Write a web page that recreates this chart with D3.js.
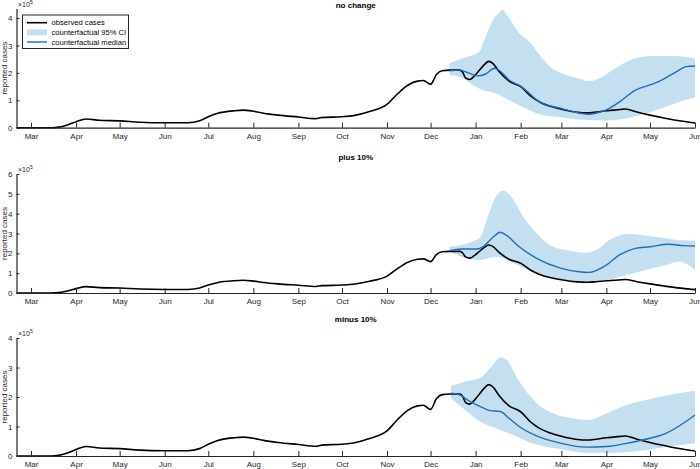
<!DOCTYPE html>
<html><head><meta charset="utf-8">
<script src="https://cdn.jsdelivr.net/npm/d3@7"></script>
<style>
body{margin:0;background:#fff;}
svg{display:block;font-family:"Liberation Sans",Arial,sans-serif;}
</style></head><body>
<svg id="chart" width="700" height="469"></svg>
<script>
// ---- data (cases in units of 1e5) ----
const monthTicks = ["2020-03-01","2020-04-01","2020-05-01","2020-06-01","2020-07-01","2020-08-01","2020-09-01","2020-10-01","2020-11-01","2020-12-01","2021-01-01","2021-02-01","2021-03-01","2021-04-01","2021-05-01","2021-06-01"];
const panelTitles = ["no change","plus 10%","minus 10%"];
const panelYMax = [4.35, 6, 4];
const panelYTicks = [[0,1,2,3,4],[0,1,2,3,4,5,6],[0,1,2,3,4]];
const legendLabels = ["observed cases","counterfactual 95% CI","counterfactual median"];

const observed = [
["2020-02-20",0],["2020-03-15",0],["2020-03-20",0.02],["2020-03-26",0.10],["2020-04-01",0.22],["2020-04-08",0.32],
["2020-04-17",0.27],["2020-05-01",0.25],["2020-05-15",0.20],["2020-06-01",0.18],["2020-06-17",0.18],["2020-06-25",0.25],
["2020-07-01",0.40],["2020-07-07",0.52],["2020-07-19",0.62],["2020-07-25",0.64],["2020-07-31",0.61],["2020-08-08",0.53],
["2020-08-18",0.46],["2020-09-01",0.39],["2020-09-13",0.33],["2020-09-17",0.37],["2020-10-01",0.40],["2020-10-09",0.44],
["2020-10-20",0.59],["2020-11-01",0.85],["2020-11-08",1.22],["2020-11-15",1.54],["2020-11-22",1.70],["2020-11-26",1.72],
["2020-12-01",1.58],["2020-12-05",1.94],["2020-12-09",2.08],["2020-12-14",2.10],["2020-12-21",2.10],["2020-12-23",2.03],
["2020-12-25",1.82],["2020-12-28",1.76],["2020-12-31",1.88],["2021-01-03",2.06],["2021-01-07",2.30],["2021-01-10",2.42],
["2021-01-13",2.34],["2021-01-17",2.06],["2021-01-24",1.70],["2021-02-01",1.50],["2021-02-08",1.15],["2021-02-15",0.91],
["2021-02-22",0.77],["2021-03-01",0.67],["2021-03-12",0.56],["2021-03-19",0.54],["2021-03-25",0.57],["2021-04-01",0.62],
["2021-04-06",0.64],["2021-04-14",0.68],["2021-04-22",0.57],["2021-05-01",0.46],["2021-05-09",0.37],["2021-05-20",0.26],
["2021-06-01",0.17]];

const median1 = [["2020-12-14",2.08],["2020-12-21",2.10],["2020-12-28",1.98],["2021-01-02",1.89],["2021-01-08",1.96],
["2021-01-14",2.17],["2021-01-18",2.06],["2021-01-24",1.74],["2021-02-01",1.52],["2021-02-14",0.94],["2021-03-01",0.70],
["2021-03-13",0.54],["2021-03-20",0.49],["2021-03-27",0.56],["2021-04-01",0.65],["2021-04-10",0.94],["2021-04-21",1.37],
["2021-05-01",1.56],["2021-05-07",1.68],["2021-05-19",2.04],["2021-05-26",2.23],["2021-06-01",2.25]];
const upper1 = [["2020-12-14",2.35],["2020-12-23",2.53],["2020-12-30",2.65],["2021-01-04",2.80],["2021-01-06",3.09],
["2021-01-08",3.33],["2021-01-13",3.94],["2021-01-18",4.24],["2021-01-19",4.30],["2021-01-24",4.0],["2021-01-31",3.45],
["2021-02-07",3.15],["2021-02-14",2.66],["2021-02-21",2.23],["2021-03-01",1.99],["2021-03-13",1.80],["2021-03-20",1.70],
["2021-03-27",1.80],["2021-04-05",2.1],["2021-04-15",2.41],["2021-04-24",2.57],["2021-05-03",2.62],["2021-05-17",2.62],
["2021-06-01",2.53]];
const lower1 = [["2020-12-14",1.92],["2020-12-21",1.86],["2020-12-30",1.56],["2021-01-06",1.37],["2021-01-15",1.25],
["2021-01-24",1.01],["2021-01-31",0.82],["2021-02-07",0.64],["2021-02-16",0.46],["2021-03-01",0.38],["2021-03-13",0.30],
["2021-03-31",0.27],["2021-04-15",0.34],["2021-04-28",0.52],["2021-05-12",0.76],["2021-05-21",0.94],["2021-06-01",1.10]];

const median2 = [["2020-12-14",2.13],["2020-12-23",2.22],["2021-01-02",2.22],["2021-01-06",2.33],["2021-01-13",2.81],
["2021-01-18",3.06],["2021-01-22",2.92],["2021-01-31",2.33],["2021-02-12",1.75],["2021-03-01",1.24],["2021-03-13",1.07],
["2021-03-20",1.04],["2021-04-01",1.41],["2021-04-10",1.92],["2021-04-21",2.25],["2021-05-01",2.33],["2021-05-14",2.46],
["2021-05-24",2.39],["2021-06-01",2.37]];
const upper2 = [["2020-12-14",2.33],["2020-12-26",2.50],["2021-01-04",2.81],["2021-01-11",4.19],["2021-01-15",4.86],
["2021-01-20",5.16],["2021-01-27",4.69],["2021-02-02",3.93],["2021-02-12",3.01],["2021-02-21",2.42],["2021-03-04",2.17],
["2021-03-18",2.03],["2021-03-25",2.17],["2021-04-05",2.76],["2021-04-17",2.98],["2021-04-28",2.90],["2021-05-10",2.78],
["2021-05-21",2.66],["2021-06-01",2.64]];
const lower2 = [["2020-12-14",2.08],["2020-12-26",1.75],["2021-01-04",1.66],["2021-01-15",1.83],["2021-01-27",1.50],
["2021-02-09",1.07],["2021-02-23",0.74],["2021-03-13",0.57],["2021-04-01",0.66],["2021-04-15",0.91],["2021-04-28",1.16],
["2021-05-12",1.41],["2021-05-21",1.58],["2021-06-01",1.16]];

const median3 = [["2020-12-15",2.13],["2020-12-21",2.07],["2020-12-28",1.85],["2021-01-04",1.68],["2021-01-11",1.54],
["2021-01-18",1.51],["2021-01-24",1.28],["2021-01-31",1.00],["2021-02-12",0.68],["2021-03-01",0.43],["2021-03-18",0.30],
["2021-04-01",0.32],["2021-04-15",0.43],["2021-05-01",0.60],["2021-05-12",0.77],["2021-05-24",1.11],["2021-06-01",1.39]];
const upper3 = [["2020-12-15",2.38],["2020-12-26",2.53],["2021-01-04",2.64],["2021-01-11",2.98],["2021-01-18",3.34],
["2021-01-22",3.27],["2021-01-31",2.53],["2021-02-12",1.79],["2021-02-23",1.45],["2021-03-09",1.28],["2021-03-20",1.22],
["2021-04-01",1.45],["2021-04-15",1.73],["2021-04-28",1.90],["2021-05-14",2.07],["2021-06-01",2.21]];
const lower3 = [["2020-12-15",1.96],["2020-12-26",1.51],["2021-01-04",1.17],["2021-01-15",0.94],["2021-01-27",0.71],
["2021-02-09",0.43],["2021-03-01",0.23],["2021-03-18",0.11],["2021-04-05",0.11],["2021-04-28",0.20],["2021-05-14",0.32],
["2021-06-01",0.43]];

const medians = [median1, median2, median3];
const uppers = [upper1, upper2, upper3];
const lowers = [lower1, lower2, lower3];

// ---- drawing ----
const parse = d3.utcParse("%Y-%m-%d");
const svg = d3.select("#chart");
const ciColor = "#c4dff0", medColor = "#1f6eb4", axColor = "#262626";
const panels = [{top:8.5, bottom:127.7, title:8},{top:174, bottom:293, title:160},{top:338, bottom:456, title:322}];
const x = d3.scaleUtc().domain([parse("2020-02-20"), parse("2021-06-01")]).range([16.5, 695]);
const mTicks = monthTicks.map(parse);

panels.forEach((p, i) => {
  const y = d3.scaleLinear().domain([0, panelYMax[i]]).range([p.bottom, p.top]);
  const g = svg.append("g");
  const smooth = d3.line().curve(d3.curveMonotoneX);

  // CI band: smooth upper path forward, densely sampled smooth lower path backward
  const upPath = smooth(uppers[i].map(d=>[x(parse(d[0])), y(d[1])]));
  const tmp = svg.append("path").attr("d", smooth(lowers[i].map(d=>[x(parse(d[0])), y(d[1])]))).attr("fill","none");
  const node = tmp.node(), L = node.getTotalLength();
  const loSamples = [];
  for(let k=0;k<=300;k++){ const pt=node.getPointAtLength(L*k/300); loSamples.push([pt.x,pt.y]); }
  tmp.remove();
  loSamples.reverse();
  g.append("path")
    .attr("d", upPath + "L" + loSamples.map(pt=>pt[0].toFixed(2)+","+pt[1].toFixed(2)).join("L") + "Z")
    .attr("fill", ciColor).attr("stroke","none");

  const line = d3.line().x(d=>x(parse(d[0]))).y(d=>y(d[1])).curve(d3.curveMonotoneX);
  g.append("path").datum(observed).attr("d", line).attr("fill","none").attr("stroke","#000").attr("stroke-width",1.6);
  g.append("path").datum(medians[i]).attr("d", line).attr("fill","none").attr("stroke",medColor).attr("stroke-width",1.4);

  // x axis
  const xa = g.append("g").attr("transform",`translate(0,${p.bottom})`)
    .call(d3.axisBottom(x).tickValues(mTicks).tickFormat(d3.utcFormat("%b")).tickSizeInner(-5).tickSizeOuter(0).tickPadding(4));
  xa.select(".domain").attr("stroke",axColor).attr("stroke-width",1.2);
  xa.selectAll(".tick line").attr("stroke",axColor).attr("stroke-width",1);
  xa.selectAll(".tick text").attr("fill",axColor).attr("font-size",8).attr("dy","0.9em");

  // y axis
  const ya = g.append("g").attr("transform",`translate(16.5,0)`)
    .call(d3.axisLeft(y).tickValues(panelYTicks[i]).tickFormat(d3.format("d")).tickSizeInner(-3).tickSizeOuter(0).tickPadding(4));
  ya.select(".domain").attr("stroke",axColor).attr("stroke-width",1.2);
  ya.selectAll(".tick line").attr("stroke",axColor).attr("stroke-width",1);
  ya.selectAll(".tick text").attr("fill",axColor).attr("font-size",8);

  // exponent label
  const ex = g.append("text").attr("x",18).attr("y",p.top-2).attr("font-size",7).attr("fill",axColor);
  ex.append("tspan").text("\u00d710");
  ex.append("tspan").attr("dy",-3).attr("font-size",5).text("5");

  // y label
  g.append("text").attr("transform",`translate(7,${(p.top+p.bottom)/2}) rotate(-90)`)
    .attr("text-anchor","middle").attr("font-size",8).attr("fill",axColor).text("reported cases");

  // title
  g.append("text").attr("x",(16.5+695)/2).attr("y",p.title)
    .attr("text-anchor","middle").attr("font-size",8).attr("font-weight","bold").attr("fill","#000").text(panelTitles[i]);
});

// legend
const lg = svg.append("g");
lg.append("rect").attr("x",22.5).attr("y",15).attr("width",106).attr("height",33.5)
  .attr("fill","#fff").attr("stroke",axColor).attr("stroke-width",1);
const rows = [22.7, 32.3, 42];
lg.append("line").attr("x1",27).attr("x2",47).attr("y1",rows[0]).attr("y2",rows[0]).attr("stroke","#000").attr("stroke-width",1.6);
lg.append("rect").attr("x",27).attr("y",rows[1]-3).attr("width",20).attr("height",6).attr("fill",ciColor);
lg.append("line").attr("x1",27).attr("x2",47).attr("y1",rows[2]).attr("y2",rows[2]).attr("stroke",medColor).attr("stroke-width",1.4);
legendLabels.forEach((t,k)=>{
  lg.append("text").attr("x",51.5).attr("y",rows[k]).attr("dy","0.35em").attr("font-size",7.6).attr("fill","#000").text(t);
});
</script>
</body></html>
